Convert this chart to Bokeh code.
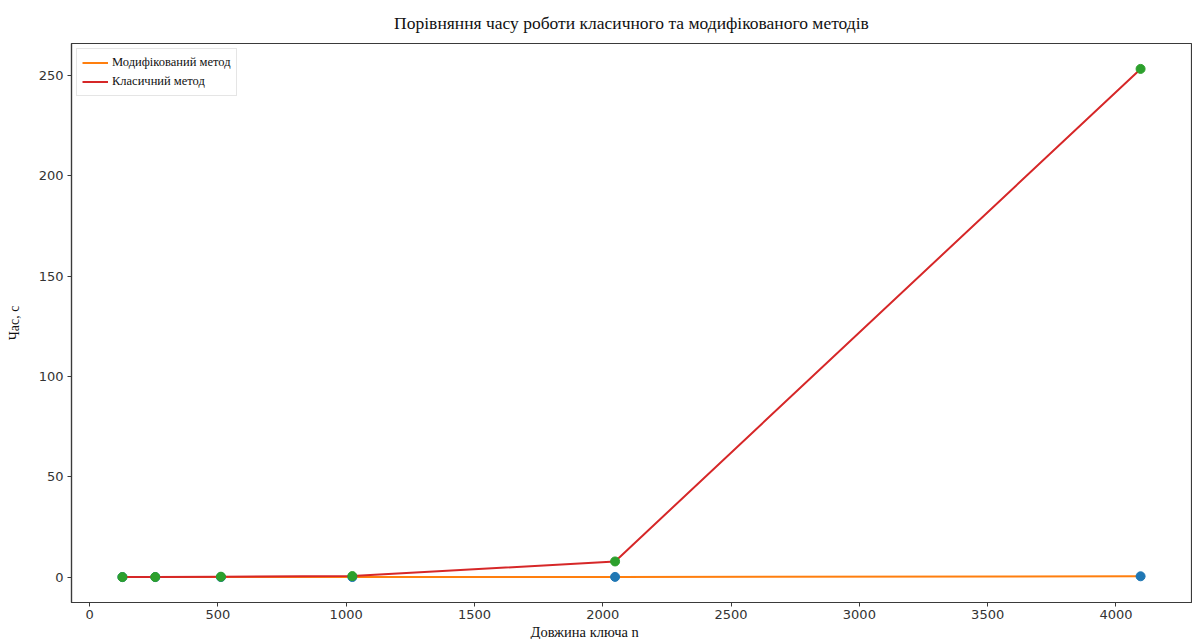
from bokeh.plotting import figure
from bokeh.models import Range1d, Legend, LegendItem, FixedTicker, Title
from bokeh.embed import file_html
from bokeh.resources import INLINE

# Key length n and running times (seconds)
key_lengths = [128, 256, 512, 1024, 2048, 4096]
time_classic = [0.01, 0.05, 0.2, 0.5, 7.8, 253.3]
time_modified = [0.001, 0.003, 0.01, 0.03, 0.1, 0.4]

x_ticks = [0, 500, 1000, 1500, 2000, 2500, 3000, 3500, 4000]
y_ticks = [0, 50, 100, 150, 200, 250]

title_text = "Порівняння часу роботи класичного та модифікованого методів"
x_label_text = "Довжина ключа n"
y_label_text = "Час, с"
legend_modified = "Модифікований метод"
legend_classic = "Класичний метод"

ORANGE = "#ff7f0e"
RED = "#d62728"
BLUE = "#1f77b4"
GREEN = "#2ca02c"
SERIF = "Liberation Serif"
AXIS_COLOR = "#3a3a3a"

# matplotlib-like 5% margins
x_span = max(key_lengths) - min(key_lengths)
y_lo = min(time_modified + time_classic)
y_hi = max(time_modified + time_classic)
y_span = y_hi - y_lo

p = figure(
    width=1192, height=639,
    output_backend="svg", toolbar_location=None,
    x_range=Range1d(min(key_lengths) - 0.05 * x_span, max(key_lengths) + 0.05 * x_span),
    y_range=Range1d(y_lo - 0.05 * y_span, y_hi + 0.05 * y_span),
    min_border_left=71, min_border_right=1, min_border_top=43, min_border_bottom=37,
    background_fill_color="white", border_fill_color="white",
)

p.title.text = title_text
p.title.align = "center"
p.title.vertical_align = "bottom"
p.title.text_font = SERIF
p.title.text_font_size = "17.5px"
p.title.text_font_style = "normal"
p.title.text_color = "#111111"
p.title.standoff = 21

p.xgrid.visible = False
p.ygrid.visible = False
p.outline_line_color = AXIS_COLOR
p.outline_line_width = 1.2

for ax in (p.xaxis[0], p.yaxis[0]):
    ax.axis_line_color = AXIS_COLOR
    ax.axis_line_width = 1.2
    ax.major_tick_line_color = AXIS_COLOR
    ax.major_tick_out = 4
    ax.major_tick_in = 0
    ax.minor_tick_line_color = None
    ax.major_label_text_font = "DejaVu Sans"
    ax.major_label_text_font_size = "13px"
    ax.major_label_text_color = "#333333"

p.xaxis.ticker = FixedTicker(ticks=x_ticks)
p.yaxis.ticker = FixedTicker(ticks=y_ticks)
p.xaxis.major_label_standoff = 3
p.yaxis.major_label_standoff = 4

p.yaxis.axis_label = y_label_text
p.yaxis.axis_label_text_font = SERIF
p.yaxis.axis_label_text_font_size = "14px"
p.yaxis.axis_label_text_font_style = "normal"
p.yaxis.axis_label_text_color = "#111111"
p.yaxis.axis_label_standoff = 14

# Lines and markers
r_mod = p.line(key_lengths, time_modified, line_color=ORANGE, line_width=2)
p.scatter(key_lengths, time_modified, size=9, fill_color=BLUE, line_color=BLUE)
r_cls = p.line(key_lengths, time_classic, line_color=RED, line_width=2)
p.scatter(key_lengths, time_classic, size=9, fill_color=GREEN, line_color=GREEN)

legend = Legend(
    items=[LegendItem(label=legend_modified, renderers=[r_mod]),
           LegendItem(label=legend_classic, renderers=[r_cls])],
    location="top_left",
    margin=5, padding=5, spacing=2,
    glyph_width=26, glyph_height=17, label_standoff=4,
    label_text_font=SERIF, label_text_font_size="12.5px", label_text_color="#111111",
    border_line_color="#cccccc", border_line_width=1,
    background_fill_color="white", background_fill_alpha=0.85,
)
p.add_layout(legend)

# x-axis label as a title below the axis
x_title = Title(text=x_label_text, align="left", offset=459, standoff=0,
                text_font=SERIF, text_font_size="14.5px", text_font_style="normal",
                text_color="#111111")
p.add_layout(x_title, "below")

open("out.html", "w").write(file_html(p, INLINE))
